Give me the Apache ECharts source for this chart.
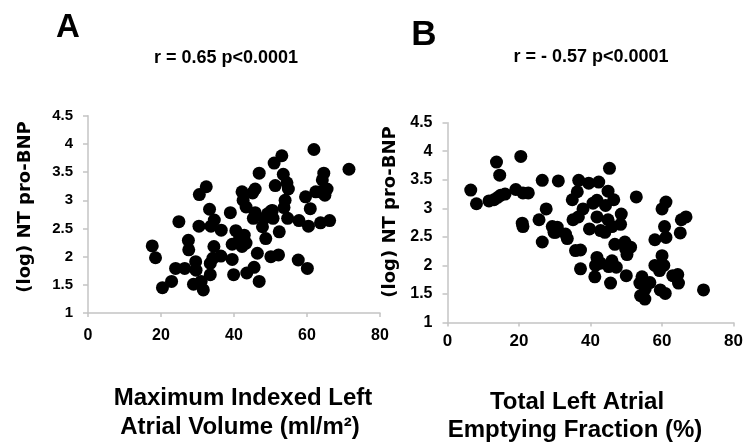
<!DOCTYPE html>
<html>
<head>
<meta charset="utf-8">
<script src="https://cdn.jsdelivr.net/npm/echarts@6/dist/echarts.min.js"></script>
<style>
  html, body { margin: 0; padding: 0; background: #fff; }
  #chart { width: 746px; height: 445px; }
</style>
</head>
<body>
<div id="chart"></div>
<script>
// panel A: max indexed LA volume vs log NT pro-BNP
const volumeA = [17.6, 18.5, 20.4, 22.9, 24.0, 26.5, 24.9, 27.5, 27.6, 29.5, 29.6, 28.9, 31.0, 31.6,
  30.5, 32.4, 30.4, 33.3, 33.7, 34.6, 34.5, 33.5, 33.5, 34.2, 36.4, 36.5, 39.0, 39.5, 39.9, 39.5,
  40.5, 41.5, 42.8, 43.3, 42.2, 43.5, 45.5, 46.9, 46.4, 42.2, 42.5, 43.3, 45.1, 45.8, 46.9, 45.8,
  45.3, 47.8, 48.3, 49.2, 50.2, 50.7, 50.5, 48.7, 50.1, 52.2, 52.4, 51.0, 53.1, 51.3, 53.5, 54.5,
  54.9, 54.0, 53.7, 54.7, 57.8, 57.6, 60.1, 59.6, 60.9, 60.4, 61.9, 62.4, 63.7, 64.9, 65.5, 64.2,
  64.6, 63.7, 66.2, 71.5];
const bnpA = [2.19, 1.98, 1.45, 1.56, 1.79, 1.79, 2.62, 2.29, 2.12, 1.91, 1.76, 1.51, 1.56, 1.41,
  3.10, 3.24, 2.54, 2.84, 2.54, 2.65, 2.18, 1.88, 1.68, 1.97, 2.01, 2.47, 2.78, 1.95, 1.68, 2.22,
  2.46, 2.32, 2.38, 2.24, 2.18, 1.71, 1.81, 1.56, 2.06, 3.15, 3.00, 2.88, 3.13, 3.20, 3.48, 2.78,
  2.68, 2.53, 2.68, 2.76, 2.81, 2.68, 2.82, 2.32, 2.00, 2.03, 2.44, 3.66, 3.79, 3.26, 3.46, 3.31,
  3.20, 3.00, 2.87, 2.68, 2.64, 1.94, 1.79, 3.06, 2.85, 2.54, 3.90, 3.15, 3.15, 3.09, 3.20, 3.36,
  3.48, 2.60, 2.64, 3.55];

// panel B: total LA emptying fraction vs log NT pro-BNP
const efB = [6.5, 8.1, 11.6, 13.0, 14.0, 14.9, 16.1, 13.7, 14.6, 19.1, 20.5, 21.1, 22.6, 20.9, 21.1,
  25.6, 26.5, 26.5, 27.6, 29.3, 29.8, 30.7, 30.2, 31.0, 33.0, 33.5, 34.9, 36.3, 36.7, 35.1, 36.6,
  35.8, 37.2, 37.2, 37.9, 39.5, 42.3, 40.7, 41.8, 39.7, 41.8, 42.8, 44.0, 44.2, 44.9, 45.3, 46.5,
  44.9, 46.0, 48.6, 48.4, 46.8, 41.2, 41.8, 41.4, 42.8, 45.1, 46.0, 47.2, 45.6, 49.6, 49.8, 50.2,
  51.2, 50.0, 52.8, 54.4, 53.8, 54.9, 54.0, 55.2, 56.6, 55.3, 58.0, 58.0, 59.3, 60.0, 60.5, 59.5,
  60.9, 60.0, 61.1, 60.7, 61.1, 63.0, 64.4, 64.6, 65.1, 65.4, 66.7, 71.6];
const bnpB = [3.32, 3.08, 3.13, 3.15, 3.19, 3.23, 3.25, 3.81, 3.58, 3.33, 3.91, 3.27, 3.27, 2.74, 2.68,
  2.80, 3.49, 2.41, 2.99, 2.68, 2.58, 2.67, 2.58, 3.48, 2.55, 2.47, 3.15, 3.29, 3.49, 2.80, 2.85,
  2.26, 2.27, 1.94, 2.99, 3.44, 3.46, 3.09, 3.14, 2.64, 2.85, 2.61, 2.58, 3.05, 3.30, 3.70, 3.15,
  2.80, 2.68, 2.90, 2.72, 2.37, 1.80, 2.14, 2.00, 2.04, 1.98, 2.08, 1.97, 1.69, 2.41, 2.29, 2.19,
  2.32, 1.82, 3.20, 1.80, 1.69, 1.70, 1.47, 1.41, 1.70, 1.59, 2.45, 2.00, 1.91, 2.17, 2.00, 1.57,
  1.51, 2.99, 3.11, 2.68, 2.49, 1.82, 1.84, 1.69, 2.57, 2.80, 2.85, 1.57];

const xTicks = [0, 20, 40, 60, 80];
const yTicks = [1, 1.5, 2, 2.5, 3, 3.5, 4, 4.5];

const panelLetters = ['A', 'B'];
const corrTexts = ['r = 0.65 p<0.0001', 'r = - 0.57 p<0.0001'];
const yName = '(log) NT pro-BNP';
const xNames = [['Maximum Indexed Left', 'Atrial Volume (ml/m²)'], ['Total Left Atrial', 'Emptying Fraction (%)']];

const font = "'Liberation Sans', Arial, sans-serif";
const axisGray = '#c4c4c4';

const toPairs = (xs, ys) => xs.map((x, i) => [x, ys[i]]);

function makeX(gridIndex, labelSize, labelMargin) {
  return {
    type: 'value', gridIndex: gridIndex,
    min: xTicks[0], max: xTicks[xTicks.length - 1], interval: 20,
    axisLine: { show: true, lineStyle: { color: axisGray, width: 1.5 } },
    axisTick: { show: true, length: 4, lineStyle: { color: axisGray, width: 1.5 } },
    splitLine: { show: false },
    axisLabel: { color: '#000', fontSize: labelSize, fontWeight: 'bold', fontFamily: font, margin: labelMargin }
  };
}

function makeY(gridIndex, labelSize) {
  return {
    type: 'value', gridIndex: gridIndex,
    min: yTicks[0], max: yTicks[yTicks.length - 1], interval: 0.5,
    axisLine: { show: true, lineStyle: { color: axisGray, width: 1.5 } },
    axisTick: { show: true, length: 5, lineStyle: { color: axisGray, width: 1.5 } },
    splitLine: { show: false },
    axisLabel: { color: '#000', fontSize: labelSize, fontWeight: 'bold', fontFamily: font, margin: 15 }
  };
}

function txt(text, x, y, size, extra) {
  return Object.assign({
    type: 'text', x: x, y: y,
    style: { text: text, fill: '#000', font: 'bold ' + size + 'px ' + font, align: 'center', verticalAlign: 'middle' }
  }, extra || {});
}

const chart = echarts.init(document.getElementById('chart'), null, { renderer: 'canvas' });

chart.setOption({
  animation: false,
  backgroundColor: '#fff',
  grid: [
    { left: 88, top: 115.7, width: 292, height: 197.3 },
    { left: 447.5, top: 122.7, width: 286.5, height: 199.8 }
  ],
  xAxis: [makeX(0, 16, 15), makeX(1, 17, 10)],
  yAxis: [makeY(0, 15), makeY(1, 16)],
  series: [
    { type: 'scatter', xAxisIndex: 0, yAxisIndex: 0, data: toPairs(volumeA, bnpA),
      symbolSize: 13, itemStyle: { color: '#000', opacity: 1 } },
    { type: 'scatter', xAxisIndex: 1, yAxisIndex: 1, data: toPairs(efB, bnpB),
      symbolSize: 13, itemStyle: { color: '#000', opacity: 1 } }
  ],
  graphic: [
    txt(panelLetters[0], 68, 28, 33),
    txt(panelLetters[1], 424, 35, 35),
    txt(corrTexts[0], 226, 58, 18),
    txt(corrTexts[1], 591, 57, 18),
    // y axis names, rotated
    { type: 'text', x: 25, y: 207, rotation: Math.PI / 2,
      style: { text: yName, fill: '#000', font: "bold 18px 'DejaVu Sans', sans-serif", align: 'center', verticalAlign: 'middle' } },
    { type: 'text', x: 390, y: 212, rotation: Math.PI / 2,
      style: { text: yName, fill: '#000', font: "bold 18px 'DejaVu Sans', sans-serif", align: 'center', verticalAlign: 'middle' } },
    // x axis names
    txt(xNames[0][0], 243, 398, 24),
    txt(xNames[0][1], 240, 427, 24),
    txt(xNames[1][0], 577, 402, 24),
    txt(xNames[1][1], 575, 430, 24)
  ]
});

window.addEventListener('resize', () => chart.resize());
</script>
</body>
</html>
